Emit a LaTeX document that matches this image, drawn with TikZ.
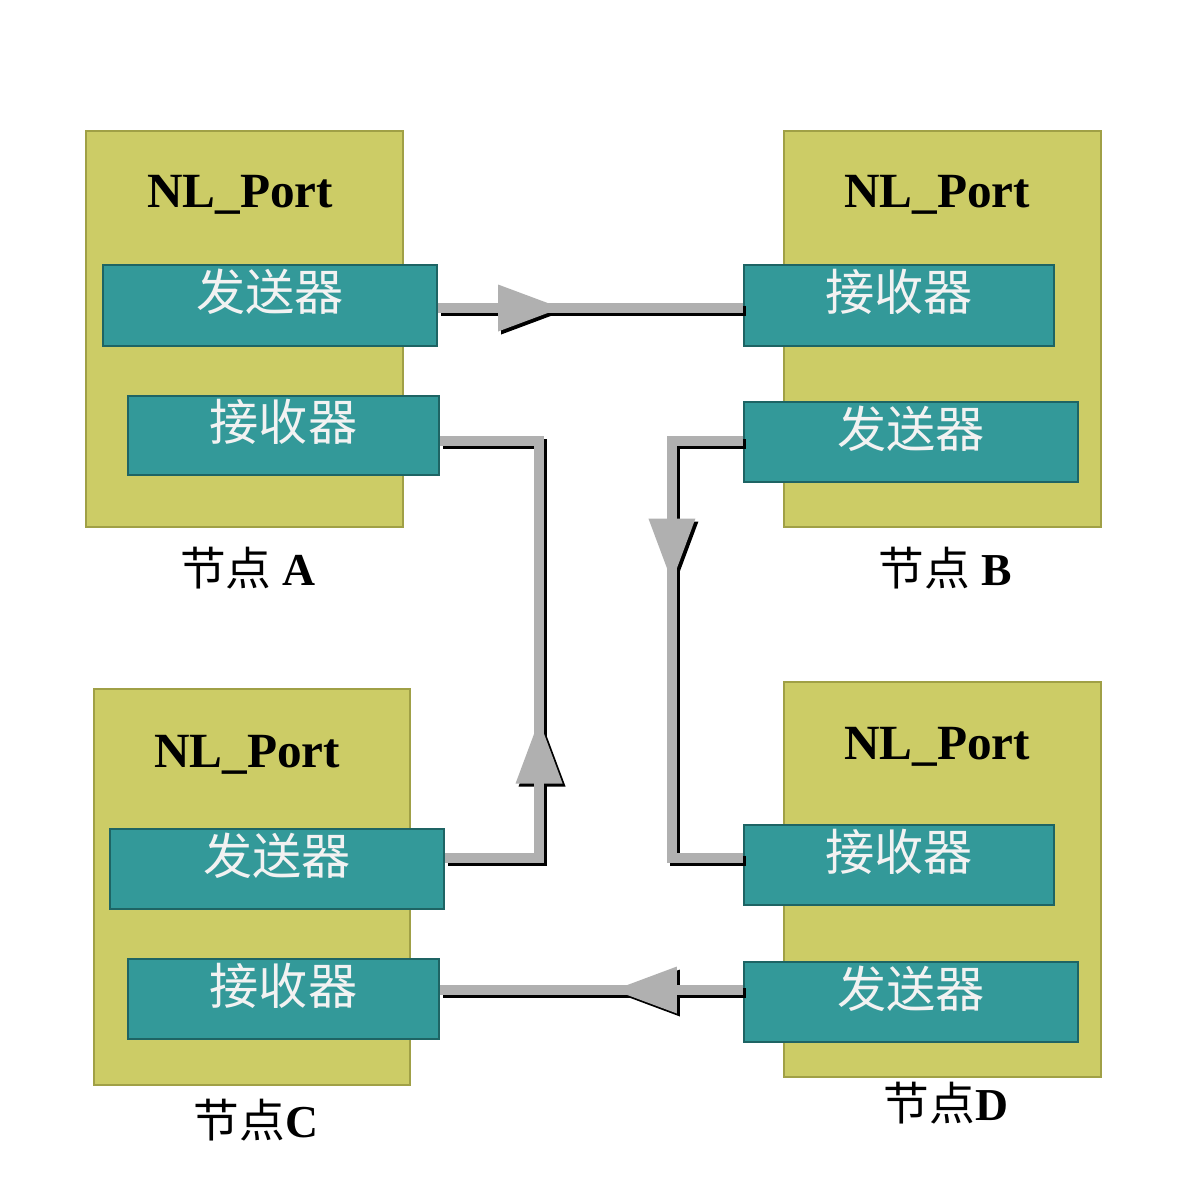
\documentclass[tikz,border=0pt]{standalone}
\usepackage{fontspec}
\setmainfont{Liberation Serif}
\newfontfamily\cjk{Noto Sans CJK SC}
\usetikzlibrary{decorations.markings}

\definecolor{portyellow}{RGB}{204,204,102}
\definecolor{portedge}{RGB}{160,160,70}
\definecolor{unitteal}{RGB}{51,153,153}
\definecolor{unitedge}{RGB}{30,100,100}
\definecolor{unittext}{RGB}{242,242,242}
\definecolor{wiregray}{RGB}{176,176,176}

\begin{document}
\begin{tikzpicture}[
  port/.style={rectangle, draw=portedge, fill=portyellow, line width=0.6pt, minimum width=3.17cm, minimum height=3.96cm, inner sep=0pt},
  unit/.style={rectangle, draw=unitedge, fill=unitteal, line width=0.6pt, minimum height=0.8cm, inner sep=0pt, text height=0.42cm, text depth=0.32cm, text=unittext, font=\cjk\fontsize{14}{14}\selectfont},
  title/.style={font=\bfseries\fontsize{14}{14}\selectfont},
  tag/.style={font=\fontsize{13}{13}\selectfont},
  wire/.style={draw=wiregray, line width=2.6pt,
    preaction={draw=black, line width=2.6pt, transform canvas={shift={(0.03,-0.03)}},
      postaction={decorate, decoration={markings, mark=at position #1 with {\fill[black] (0.315,0) -- (-0.315,0.235) -- (-0.315,-0.235) -- cycle;}}}},
    postaction={decorate, decoration={markings, mark=at position #1 with {\fill[wiregray] (0.315,0) -- (-0.315,0.235) -- (-0.315,-0.235) -- cycle;}}}}
]
\fill[white] (0,0) rectangle (11.88,-11.88);

% the four ports
\node[port] (portA) at (2.445,-3.29) {};
\node[port] (portB) at (9.425,-3.29) {};
\node[port, minimum width=3.16cm] (portC) at (2.52,-8.87) {};
\node[port, minimum height=3.95cm] (portD) at (9.425,-8.795) {};

\node[title] (titleA) at (2.40,-1.95) {NL\_Port};
\node[title] (titleB) at (9.37,-1.95) {NL\_Port};
\node[title] (titleC) at (2.47,-7.55) {NL\_Port};
\node[title] (titleD) at (9.37,-7.47) {NL\_Port};

% senders and receivers
\node[unit, minimum width=3.34cm, minimum height=0.81cm] (atx) at (2.70,-3.055) {发送器};
\node[unit, minimum width=3.11cm, minimum height=0.79cm] (arx) at (2.835,-4.355) {接收器};
\node[unit, minimum width=3.10cm, minimum height=0.81cm] (brx) at (8.99,-3.055) {接收器};
\node[unit, minimum width=3.34cm] (btx) at (9.11,-4.42) {发送器};
\node[unit, minimum width=3.34cm] (ctx) at (2.77,-8.69) {发送器};
\node[unit, minimum width=3.11cm] (crx) at (2.835,-9.99) {接收器};
\node[unit, minimum width=3.10cm] (drx) at (8.99,-8.65) {接收器};
\node[unit, minimum width=3.34cm] (dtx) at (9.11,-10.02) {发送器};

% names below the ports
\node[tag] (tagA) at (2.48,-5.68) {{\cjk 节点} \textbf{A}};
\node[tag] (tagB) at (9.45,-5.68) {{\cjk 节点} \textbf{B}};
\node[tag] (tagC) at (2.56,-11.20) {{\cjk 节点}\textbf{C}};
\node[tag] (tagD) at (9.46,-11.03) {{\cjk 节点}\textbf{D}};

% the loop
\draw[wire=0.915cm] ([yshift=-0.025cm]atx.east) -- ([yshift=-0.025cm]brx.west);
\draw[wire=1.8cm] ([yshift=0.01cm]btx.west) -- ++(-0.71,0) |- ([yshift=0.07cm]drx.west);
\draw[wire=0.975cm] ([yshift=0.12cm]dtx.west) -- ([yshift=0.09cm]crx.east);
\draw[wire=2.0cm] ([yshift=0.11cm]ctx.east) -- ++(0.94,0) |- ([yshift=-0.055cm]arx.east);
\end{tikzpicture}
\end{document}
